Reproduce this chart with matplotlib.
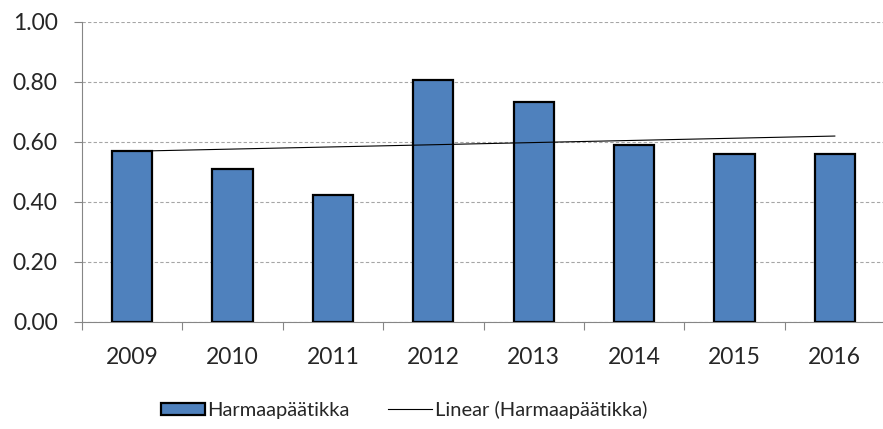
#! /usr/bin/env python3
# coding: utf-8

import numpy as np
import matplotlib
matplotlib.use("Agg")
import matplotlib.pyplot as plt

years = ["2009", "2010", "2011", "2012", "2013", "2014", "2015", "2016"]
values = [0.57, 0.51, 0.423, 0.808, 0.735, 0.59, 0.56, 0.56]
y_ticks = [0.0, 0.2, 0.4, 0.6, 0.8, 1.0]

BAR_COLOR = "#4F81BD"
GRID_COLOR = "#A6A6A6"
SPINE_COLOR = "#868686"
TEXT_COLOR = "#262626"


def main():
    plt.rcParams["font.family"] = ["Lato", "DejaVu Sans"]

    fig = plt.figure(figsize=(8.83, 4.29), dpi=100)
    ax = fig.add_axes([82 / 883, 1 - 322 / 429, 803 / 883, 300 / 429])

    x = np.arange(len(years))
    bars = ax.bar(x, values, width=0.4, color=BAR_COLOR, edgecolor="black",
                  linewidth=1.6, label="Harmaapäätikka", zorder=3)

    # linear trendline, like Excel's
    slope, intercept = np.polyfit(x, values, 1)
    trend = ax.plot(x, slope * x + intercept, color="black", linewidth=0.8,
                    label="Linear (Harmaapäätikka)", zorder=4)

    ax.set_xlim(-0.5, len(years) - 0.5)
    ax.set_ylim(0, 1.0)
    ax.set_yticks(y_ticks)
    ax.set_yticklabels(["{:.2f}".format(v) for v in y_ticks])
    ax.set_xticks(x)
    ax.set_xticklabels(years)
    ax.set_xticks(np.arange(len(years) + 1) - 0.5, minor=True)

    ax.grid(axis="y", color=GRID_COLOR, linestyle=(0, (3, 2)), linewidth=0.8,
            zorder=0)
    ax.tick_params(axis="y", direction="out", length=5.5, width=0.8,
                   color=SPINE_COLOR, labelsize=16.5, labelcolor=TEXT_COLOR,
                   pad=12)
    ax.tick_params(axis="x", which="major", length=0, labelsize=16.5,
                   labelcolor=TEXT_COLOR, pad=18)
    ax.tick_params(axis="x", which="minor", direction="out", length=5.5,
                   width=0.8, color=SPINE_COLOR)

    for side in ["top", "right"]:
        ax.spines[side].set_visible(False)
    for side in ["left", "bottom"]:
        ax.spines[side].set_color(SPINE_COLOR)
        ax.spines[side].set_linewidth(0.8)

    fig.legend(handles=[bars, trend[0]], loc="center",
               bbox_to_anchor=(0.4575, 1 - 410 / 429), ncol=2, frameon=False,
               fontsize=14.5, handlelength=2.2, handleheight=0.6,
               handletextpad=0.12, columnspacing=1.9, labelcolor=TEXT_COLOR)

    fig.savefig("out.png", dpi=100)


if __name__ == "__main__":
    main()
